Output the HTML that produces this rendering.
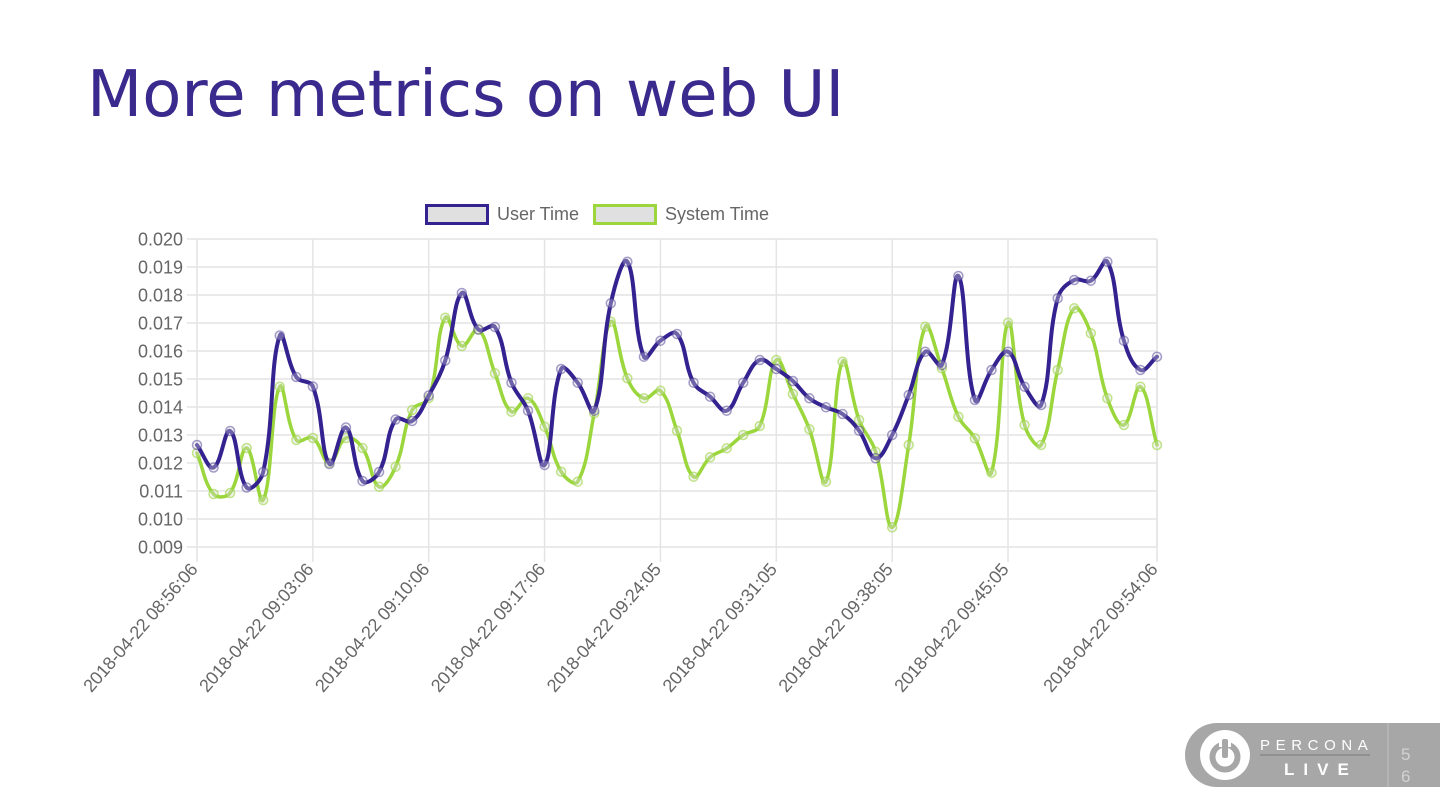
<!DOCTYPE html>
<html><head><meta charset="utf-8">
<style>
html,body{margin:0;padding:0;background:#fff;}
body{width:1440px;height:811px;overflow:hidden;position:relative;}
.title{position:absolute;left:87px;top:58px;font-family:"DejaVu Sans",sans-serif;font-size:64px;color:#3a2a8e;white-space:nowrap;letter-spacing:0px;}
svg{position:absolute;left:0;top:0;}
</style></head>
<body>
<div class="title">More metrics on web UI</div>
<svg id="chart" width="1440" height="811" viewBox="0 0 1440 811" xmlns="http://www.w3.org/2000/svg">
  <g id="grid" stroke="#e4e4e4" stroke-width="1.5" fill="none"></g>
  <g id="ylabels" font-family="Liberation Sans, Arial, sans-serif" font-size="18" fill="#666" text-anchor="end"></g>
  <g id="xlabels" font-family="Liberation Sans, Arial, sans-serif" font-size="18" fill="#666" text-anchor="end"></g>
  <!-- legend -->
  <rect x="426.5" y="205.5" width="61" height="18" fill="#e0e0e0" stroke="#33228f" stroke-width="3"/>
  <text x="497" y="220" font-family="Liberation Sans, Arial, sans-serif" font-size="18" fill="#666">User Time</text>
  <rect x="594.5" y="205.5" width="61" height="18" fill="#e0e0e0" stroke="#9ad63c" stroke-width="3"/>
  <text x="665" y="220" font-family="Liberation Sans, Arial, sans-serif" font-size="18" fill="#666">System Time</text>
  <g id="series"></g>

  <!-- Percona Live logo -->
  <path d="M1217,723 H1440 V787 H1217 A32,32 0 0 1 1217,723 Z" fill="#a7a7a7"/>
  <line x1="1388" y1="723" x2="1388" y2="787" stroke="#b9b9b9" stroke-width="1.5"/>
  <circle cx="1225" cy="755" r="25" fill="#ffffff"/>
  <circle cx="1225" cy="757" r="12.5" fill="none" stroke="#a7a7a7" stroke-width="6"/>
  <rect x="1219" y="737" width="12" height="10" fill="#ffffff"/>
  <rect x="1222" y="739" width="6" height="19" rx="2" fill="#a7a7a7"/>
  <text x="1260" y="750" font-family="Liberation Sans, Arial, sans-serif" font-size="15" fill="#ffffff" letter-spacing="5.6">PERCONA</text>
  <line x1="1260" y1="755" x2="1370" y2="755" stroke="#8a8a8a" stroke-width="1.5"/>
  <text x="1284" y="775" font-family="Liberation Sans, Arial, sans-serif" font-size="17" font-weight="bold" fill="#ffffff" letter-spacing="9">LIVE</text>
  <text x="1401" y="760" font-family="Liberation Sans, Arial, sans-serif" font-size="17" fill="#d2d2d2">5</text>
  <text x="1401" y="782" font-family="Liberation Sans, Arial, sans-serif" font-size="17" fill="#d2d2d2">6</text>
</svg>
<script>
(function(){
  var NS="http://www.w3.org/2000/svg";
  var L=197,R=1157,T=239,B=547;
  var step=(R-L)/58;
  function el(tag,attrs,parent){var e=document.createElementNS(NS,tag);for(var k in attrs)e.setAttribute(k,attrs[k]);parent.appendChild(e);return e;}
  var grid=document.getElementById('grid');
  var yl=document.getElementById('ylabels');
  var xl=document.getElementById('xlabels');
  var ylabs=["0.020","0.019","0.018","0.017","0.016","0.015","0.014","0.013","0.012","0.011","0.010","0.009"];
  for(var k=0;k<12;k++){
    var y=T+k*28;
    el('line',{x1:187,y1:y,x2:R,y2:y},grid);
    var t=el('text',{x:183,y:y+6.5},yl);t.textContent=ylabs[k];
  }
  var xidx=[0,7,14,21,28,35,42,49,58];
  var xlabs=["2018-04-22 08:56:06","2018-04-22 09:03:06","2018-04-22 09:10:06","2018-04-22 09:17:06","2018-04-22 09:24:05","2018-04-22 09:31:05","2018-04-22 09:38:05","2018-04-22 09:45:05","2018-04-22 09:54:06"];
  for(var j=0;j<xidx.length;j++){
    var x=L+xidx[j]*step;
    el('line',{x1:x,y1:T,x2:x,y2:562},grid);
    var t2=el('text',{x:0,y:0,transform:"translate("+(x-3)+",566) rotate(-49)",dy:"6","letter-spacing":"-0.2"},xl);
    t2.textContent=xlabs[j];
  }
  el('line',{x1:R,y1:T,x2:R,y2:B},grid);

  var U=[445,467.5,431,487.5,472,335.5,377,386.5,464,427.5,481,472,419.5,421,395.5,360.5,293,329.5,327,382.7,410.7,465,369,382.7,410.7,303.3,261.7,356.7,340.7,334,382.7,396.7,410.7,382.7,360,369,381,398.3,407.3,414,430.7,458.3,435,395,351.7,365,276,400,370,351.7,386.7,405,298.3,280,280.7,261.7,340.7,370,356.7];
  var G=[453,494,493,448,500,386.7,440,438,463,438,448,486.7,466.7,410,398,317.7,346,329.5,373.3,411.7,398.3,426.7,471.7,481.7,413.3,321.7,378.3,398.3,390.7,430.7,476.7,457.3,448.3,435,426,360,394,429.3,481.7,361.7,420,451.7,527.3,445,326.7,368.3,416.7,438.3,472.7,322.7,425,445,370,308.3,333.3,398.3,425,386.7,445];

  function pathFor(ys){
    var pts=ys.map(function(y,i){return {x:L+i*step,y:y};});
    var t=0.4;
    for(var i=0;i<pts.length;i++){
      var p=pts[i],prev=pts[i-1]||p,next=pts[i+1]||p;
      var d01=Math.hypot(p.x-prev.x,p.y-prev.y),d12=Math.hypot(next.x-p.x,next.y-p.y);
      var s01=d01/(d01+d12)||0,s12=d12/(d01+d12)||0;
      var fa=t*s01,fb=t*s12;
      p.c1x=p.x-fa*(next.x-prev.x);p.c1y=p.y-fa*(next.y-prev.y);
      p.c2x=p.x+fb*(next.x-prev.x);p.c2y=p.y+fb*(next.y-prev.y);
      p.c1y=Math.max(T,Math.min(B,p.c1y));p.c2y=Math.max(T,Math.min(B,p.c2y));
    }
    var d="M"+pts[0].x.toFixed(2)+","+pts[0].y.toFixed(2);
    for(var i=1;i<pts.length;i++){
      var a=pts[i-1],b=pts[i];
      d+=" C"+a.c2x.toFixed(2)+","+a.c2y.toFixed(2)+" "+b.c1x.toFixed(2)+","+b.c1y.toFixed(2)+" "+b.x.toFixed(2)+","+b.y.toFixed(2);
    }
    return {d:d,pts:pts};
  }
  var s=document.getElementById('series');
  function draw(ys,color,w,ptStroke){
    var r=pathFor(ys);
    el('path',{d:r.d,fill:"none",stroke:color,"stroke-width":w,"stroke-linejoin":"round","stroke-linecap":"round"},s);
    r.pts.forEach(function(p){
      el('circle',{cx:p.x,cy:p.y,r:4.5,fill:"rgba(220,220,220,0.35)",stroke:ptStroke,"stroke-width":1.5},s);
    });
  }
  draw(G,"#9ad63c",3.5,"rgba(154,214,60,0.6)");
  draw(U,"#33228f",4,"rgba(80,60,150,0.5)");
})();
</script>
</body></html>
